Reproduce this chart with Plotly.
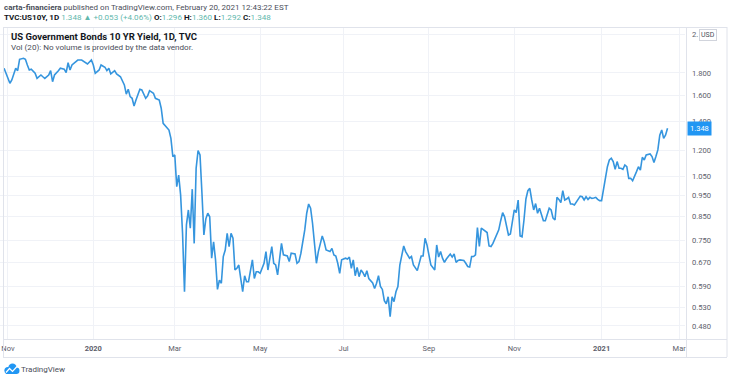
import plotly.graph_objects as go
import math

# ---------------- data ----------------
dates = [
 "2019-10-30","2019-11-04","2019-11-05","2019-11-07","2019-11-08","2019-11-11","2019-11-13","2019-11-14","2019-11-15",
 "2019-11-18","2019-11-19","2019-11-21","2019-11-22","2019-11-26","2019-11-27","2019-11-28","2019-12-02","2019-12-03",
 "2019-12-04","2019-12-05","2019-12-09","2019-12-10","2019-12-12","2019-12-13","2019-12-16","2019-12-17","2019-12-18",
 "2019-12-20","2019-12-23","2019-12-25","2019-12-27","2019-12-30","2020-01-01","2020-01-02","2020-01-03","2020-01-07",
 "2020-01-08","2020-01-10","2020-01-13","2020-01-14","2020-01-15","2020-01-17","2020-01-20","2020-01-22","2020-01-24",
 "2020-01-27","2020-01-28","2020-01-29","2020-01-30","2020-01-31","2020-02-03","2020-02-05","2020-02-06","2020-02-10",
 "2020-02-11","2020-02-12","2020-02-14","2020-02-17","2020-02-19","2020-02-20","2020-02-21","2020-02-25","2020-02-26",
 "2020-02-27","2020-02-28","2020-03-02","2020-03-03","2020-03-04","2020-03-05","2020-03-06","2020-03-09","2020-03-10",
 "2020-03-11","2020-03-12","2020-03-13","2020-03-16","2020-03-17","2020-03-18","2020-03-19","2020-03-20","2020-03-23",
 "2020-03-24","2020-03-25","2020-03-26","2020-03-27","2020-03-30","2020-03-31","2020-04-01","2020-04-02","2020-04-03",
 "2020-04-06","2020-04-07","2020-04-08","2020-04-09","2020-04-10","2020-04-13","2020-04-14","2020-04-15","2020-04-16",
 "2020-04-17","2020-04-20","2020-04-21","2020-04-22","2020-04-23","2020-04-27","2020-04-28","2020-04-29","2020-04-30",
 "2020-05-01","2020-05-05","2020-05-06","2020-05-07","2020-05-08","2020-05-11","2020-05-12","2020-05-13","2020-05-14",
 "2020-05-15","2020-05-18","2020-05-19","2020-05-21","2020-05-22","2020-05-25","2020-05-27","2020-05-28","2020-05-29",
 "2020-06-01","2020-06-03","2020-06-04","2020-06-05","2020-06-08","2020-06-09","2020-06-10","2020-06-11","2020-06-12",
 "2020-06-15","2020-06-16","2020-06-17","2020-06-18","2020-06-22","2020-06-23","2020-06-24","2020-06-25","2020-06-26",
 "2020-06-29","2020-06-30","2020-07-02","2020-07-03","2020-07-06","2020-07-07","2020-07-08","2020-07-09","2020-07-10",
 "2020-07-13","2020-07-14","2020-07-15","2020-07-16","2020-07-17","2020-07-20","2020-07-22","2020-07-23","2020-07-24",
 "2020-07-27","2020-07-28","2020-07-29","2020-07-30","2020-07-31","2020-08-03","2020-08-04","2020-08-05","2020-08-06",
 "2020-08-07","2020-08-10","2020-08-11","2020-08-13","2020-08-14","2020-08-18","2020-08-19","2020-08-20","2020-08-24",
 "2020-08-25","2020-08-26","2020-08-27","2020-08-28","2020-08-31","2020-09-01","2020-09-02","2020-09-04","2020-09-07",
 "2020-09-08","2020-09-09","2020-09-10","2020-09-11","2020-09-14","2020-09-15","2020-09-16","2020-09-17","2020-09-18",
 "2020-09-21","2020-09-22","2020-09-23","2020-09-25","2020-09-28","2020-09-29","2020-09-30","2020-10-01","2020-10-02",
 "2020-10-05","2020-10-06","2020-10-07","2020-10-08","2020-10-09","2020-10-12","2020-10-13","2020-10-14","2020-10-15",
 "2020-10-16","2020-10-19","2020-10-21","2020-10-22","2020-10-23","2020-10-26","2020-10-27","2020-10-28","2020-10-29",
 "2020-10-30","2020-11-02","2020-11-03","2020-11-04","2020-11-05","2020-11-06","2020-11-09","2020-11-10","2020-11-11",
 "2020-11-12","2020-11-13","2020-11-16","2020-11-17","2020-11-18","2020-11-19","2020-11-20","2020-11-23","2020-11-24",
 "2020-11-25","2020-11-26","2020-11-27","2020-11-30","2020-12-01","2020-12-02","2020-12-03","2020-12-04","2020-12-07",
 "2020-12-08","2020-12-09","2020-12-10","2020-12-11","2020-12-14","2020-12-15","2020-12-16","2020-12-17","2020-12-18",
 "2020-12-21","2020-12-22","2020-12-23","2020-12-24","2020-12-25","2020-12-28","2020-12-29","2020-12-30","2020-12-31",
 "2021-01-01","2021-01-04","2021-01-05","2021-01-06","2021-01-07","2021-01-08","2021-01-11","2021-01-12","2021-01-13",
 "2021-01-14","2021-01-15","2021-01-18","2021-01-19","2021-01-20","2021-01-21","2021-01-22","2021-01-25","2021-01-26",
 "2021-01-27","2021-01-28","2021-01-29","2021-02-01","2021-02-02","2021-02-03","2021-02-04","2021-02-05","2021-02-08",
 "2021-02-09","2021-02-10","2021-02-11","2021-02-12","2021-02-15","2021-02-16","2021-02-17","2021-02-18","2021-02-19",
]
yields = [
 1.845,1.706,1.735,1.845,1.822,1.933,1.944,1.933,1.877,
 1.829,1.836,1.797,1.750,1.781,1.765,1.750,1.781,1.822,
 1.720,1.781,1.822,1.845,1.836,1.803,1.899,1.829,1.877,
 1.916,1.926,1.926,1.894,1.887,1.926,1.877,1.797,1.829,
 1.877,1.855,1.822,1.845,1.791,1.822,1.791,1.765,1.691,
 1.611,1.653,1.591,1.577,1.515,1.563,1.653,1.647,1.577,
 1.597,1.641,1.619,1.577,1.563,1.497,1.384,1.356,1.336,
 1.279,1.163,1.173,0.994,1.056,0.952,0.779,0.574,0.814,
 0.880,0.800,0.981,0.739,1.094,1.200,1.173,0.960,0.772,
 0.840,0.865,0.849,0.684,0.745,0.678,0.581,0.610,0.600,
 0.690,0.714,0.779,0.727,0.779,0.759,0.643,0.649,0.660,
 0.615,0.574,0.624,0.605,0.605,0.678,0.615,0.637,0.637,
 0.632,0.666,0.708,0.643,0.690,0.727,0.666,0.660,0.627,
 0.690,0.739,0.696,0.692,0.672,0.702,0.699,0.666,0.672,
 0.702,0.793,0.865,0.908,0.888,0.821,0.752,0.666,0.708,
 0.739,0.768,0.745,0.714,0.708,0.720,0.696,0.692,0.666,
 0.632,0.678,0.684,0.681,0.688,0.649,0.678,0.624,0.652,
 0.621,0.643,0.634,0.621,0.641,0.615,0.601,0.584,0.600,
 0.624,0.590,0.581,0.548,0.539,0.559,0.504,0.559,0.545,
 0.574,0.590,0.660,0.729,0.708,0.684,0.690,0.660,0.641,
 0.672,0.692,0.692,0.759,0.733,0.692,0.660,0.643,0.733,
 0.688,0.708,0.684,0.669,0.681,0.690,0.699,0.688,0.699,
 0.669,0.676,0.678,0.676,0.666,0.655,0.653,0.690,0.690,
 0.696,0.803,0.727,0.800,0.793,0.786,0.782,0.729,0.727,
 0.739,0.759,0.793,0.832,0.868,0.849,0.814,0.772,0.776,
 0.818,0.880,0.868,0.927,0.768,0.765,0.835,0.932,0.973,
 0.985,0.927,0.880,0.910,0.865,0.888,0.857,0.832,0.832,
 0.865,0.888,0.880,0.843,0.835,0.940,0.930,0.914,0.973,
 0.927,0.932,0.940,0.908,0.908,0.903,0.918,0.935,0.946,
 0.943,0.927,0.943,0.930,0.940,0.935,0.937,0.940,0.930,
 0.924,0.924,0.977,1.047,1.103,1.143,1.153,1.133,1.088,
 1.133,1.094,1.094,1.088,1.113,1.103,1.038,1.038,1.025,
 1.047,1.075,1.103,1.084,1.159,1.143,1.173,1.176,1.179,
 1.163,1.127,1.163,1.204,1.300,1.336,1.279,1.302,1.348,
]

x_tick_dates = ["2019-11-01","2020-01-02","2020-03-02","2020-05-01","2020-07-01",
                "2020-09-01","2020-11-02","2021-01-04","2021-03-01"]
x_tick_labels = ["Nov","<b>2020</b>","Mar","May","Jul","Sep","Nov","<b>2021</b>","Mar"]
y_tick_values = [0.48,0.53,0.59,0.67,0.75,0.85,0.95,1.05,1.2,1.4,1.6,1.8,2.2]
y_tick_labels = ["0.480","0.530","0.590","0.670","0.750","0.850","0.950","1.050",
                 "1.200","1.400","1.600","1.800","2."]

quote_open, quote_high, quote_low, quote_close = "1.296", "1.360", "1.292", "1.348"
quote_change, quote_pct = "+0.053", "+4.06%"

# ---------------- layout helpers ----------------
W, H = 730, 379
ML, MR, MT, MB = 0, 45, 27, 40
PW, PH = W - ML - MR, H - MT - MB
def px(x):
    return (x - ML) / PW
def py(y):
    return (H - MB - y) / PH

FONT = "Roboto, Open Sans, sans-serif"
GRID = "#f0f2f7"
BORDER = "#e0e3eb"
LINE = "#3595de"
TEAL = "#5fb8ad"

fig = go.Figure()
fig.add_trace(go.Scatter(x=dates, y=yields, mode="lines",
                         line=dict(color=LINE, width=1.6), hoverinfo="skip"))

last = yields[-1]

fig.update_layout(
    width=W, height=H,
    margin=dict(l=ML, r=MR, t=MT, b=MB, autoexpand=False),
    paper_bgcolor="white", plot_bgcolor="white",
    showlegend=False,
    font=dict(family=FONT, size=8, color="#4a4e59"),
    xaxis=dict(
        type="date",
        rangebreaks=[dict(bounds=["sat", "mon"])],
        range=["2019-10-25 21:36", "2021-03-04"],
        tickvals=x_tick_dates, ticktext=x_tick_labels,
        showgrid=True, gridcolor=GRID, gridwidth=1,
        zeroline=False, showline=False, ticks="",
        tickfont=dict(size=7.5, color="#5d606b"),
        ticklabelstandoff=3,
    ),
    yaxis=dict(
        type="log", side="right",
        range=[-0.3483, 0.3596],
        tickvals=y_tick_values, ticktext=y_tick_labels,
        showgrid=True, gridcolor=GRID, gridwidth=1,
        zeroline=False, showline=False, ticks="",
        tickfont=dict(size=7.6, color="#5d606b"),
        ticklabelstandoff=6,
    ),
)

shapes = []
# last-value dotted line
shapes.append(dict(type="line", xref="paper", yref="y", x0=0, x1=1,
                   y0=math.log10(last), y1=math.log10(last),
                   line=dict(color="rgba(53,147,220,0.55)", width=1, dash="dot")))
# pane borders
def hline(y, x0, x1):
    shapes.append(dict(type="line", xref="paper", yref="paper", x0=px(x0), x1=px(x1),
                       y0=py(y), y1=py(y), line=dict(color=BORDER, width=1)))
def vline(x, y0, y1):
    shapes.append(dict(type="line", xref="paper", yref="paper", x0=px(x), x1=px(x),
                       y0=py(y0), y1=py(y1), line=dict(color=BORDER, width=1)))
hline(27.5, 3, 727)
hline(339.5, 3, 727)
hline(357.5, 3, 727)
vline(3.5, 27, 357)
vline(686.5, 27, 357)
vline(727, 27, 357)

# TradingView logo (cloud)
for cx, cy, r in [(8, 370.5, 3.6), (12.5, 367.8, 4.2), (16.3, 370.8, 3.2)]:
    shapes.append(dict(type="circle", xref="paper", yref="paper",
                       x0=px(cx - r), x1=px(cx + r), y0=py(cy - r), y1=py(cy + r),
                       fillcolor="#2196f3", line=dict(width=0)))
shapes.append(dict(type="rect", xref="paper", yref="paper",
                   x0=px(6), x1=px(17), y0=py(374), y1=py(370.5),
                   fillcolor="#2196f3", line=dict(width=0)))
shapes.append(dict(type="path", xref="paper", yref="paper",
                   path="M {} {} L {} {} L {} {} L {} {}".format(
                       px(6), py(372.5), px(9.5), py(368.5), px(12.5), py(371.5), px(17), py(366.5)),
                   line=dict(color="white", width=1.2)))
fig.update_layout(shapes=shapes)

ann = []
def text(x, y, s, size=8, color="#131722", xanchor="left", **kw):
    ann.append(dict(x=px(x), y=py(y), xref="paper", yref="paper", text=s, showarrow=False,
                    xanchor=xanchor, yanchor="middle",
                    font=dict(family=FONT, size=size, color=color), **kw))

text(2, 7, "<b>carta-financiera</b> published on TradingView.com, February 20, 2021 12:43:22 EST",
     size=8.0, color="#4a4e59")
line2 = ("<b>TVC:US10Y, 1D</b> "
         f"<span style='color:{TEAL}'>{quote_close} ▲ {quote_change} ({quote_pct})</span> "
         f"<b>O:</b><span style='color:{TEAL}'>{quote_open}</span> "
         f"<b>H:</b><span style='color:{TEAL}'>{quote_high}</span> "
         f"<b>L:</b><span style='color:{TEAL}'>{quote_low}</span> "
         f"<b>C:</b><span style='color:{TEAL}'>{quote_close}</span>")
text(2, 17.5, line2, size=8.05, color="#131722")
text(9, 36, "<b>US Government Bonds 10 YR Yield, 1D, TVC</b>", size=9.5, color="#131722")
text(9, 46.5, "Vol (20): No volume is provided by the data vendor.", size=8.1, color="#4a4e59")
# USD box
text(699, 35, "USD", size=7, color="#4a4e59", bordercolor="#d1d4dc", borderwidth=1, borderpad=1)
# TradingView wordmark
text(19, 369.5, "TradingView", size=8, color="#4a4e59")
# last value badge
ann.append(dict(x=px(686.5), y=math.log10(last), xref="paper", yref="y",
                text=f"{last:.3f}", showarrow=False, xanchor="left", yanchor="middle",
                bgcolor="#2196f3", borderpad=2,
                font=dict(family=FONT, size=7.5, color="white")))
fig.update_layout(annotations=ann)

fig.write_html("out.html", config={"displayModeBar": False},
               post_script="document.body.style.margin='0';document.body.style.padding='0';")
